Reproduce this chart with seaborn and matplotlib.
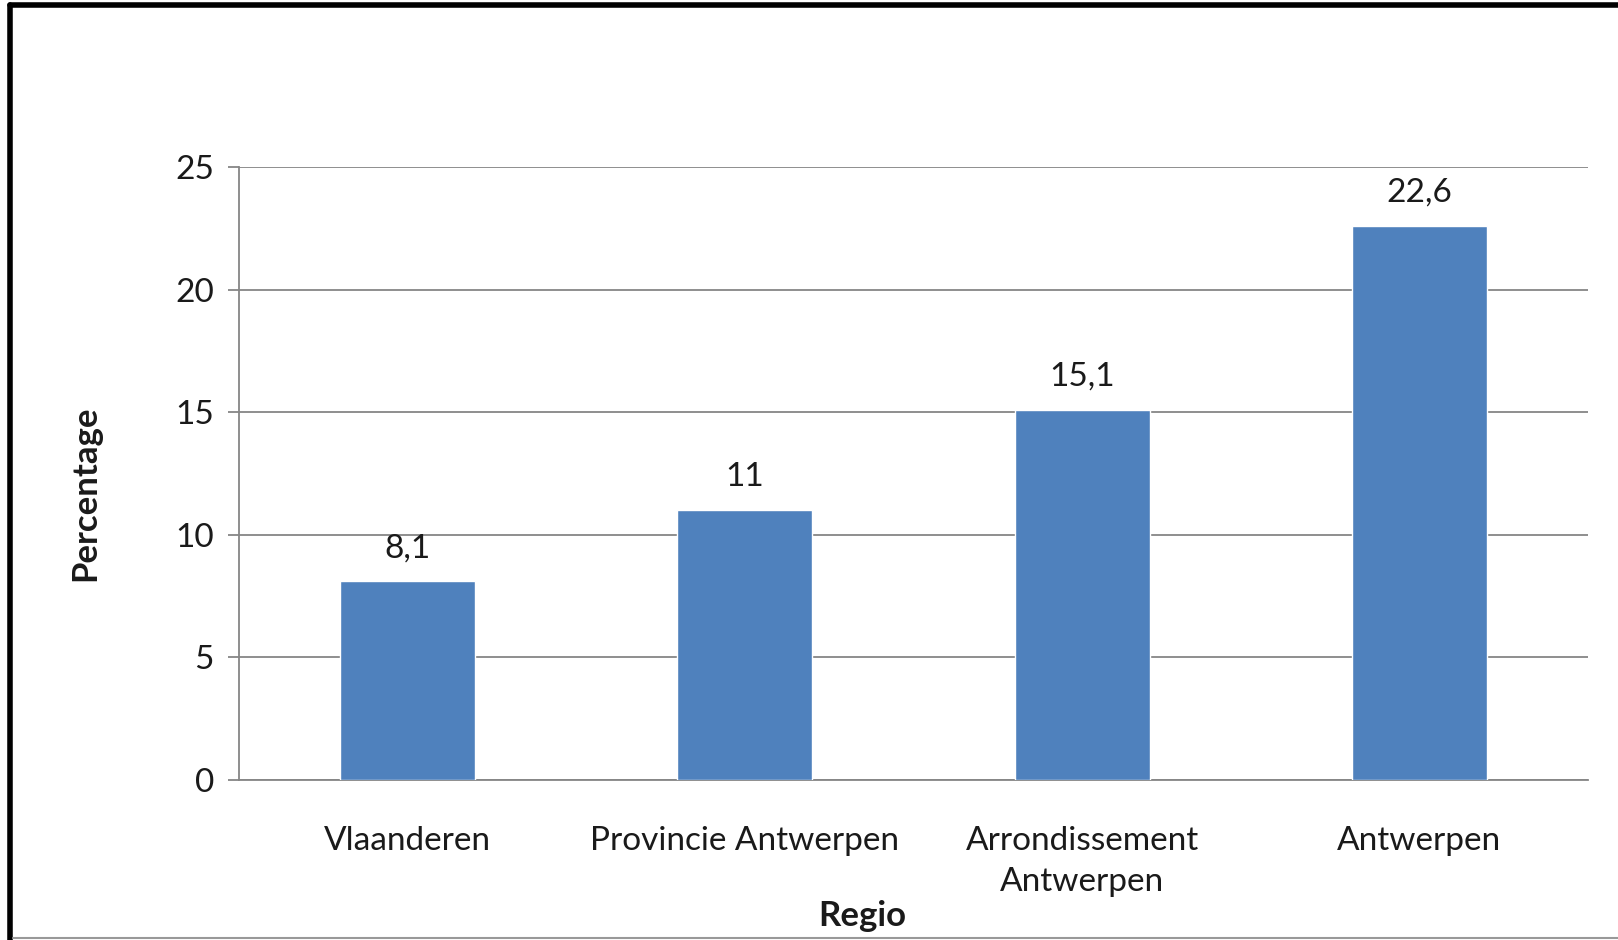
import matplotlib
matplotlib.use("Agg")
from matplotlib import pyplot as plt
from matplotlib.lines import Line2D
import pandas as pd
import seaborn as sns

regions = ['Vlaanderen', 'Provincie Antwerpen', 'Arrondissement\nAntwerpen', 'Antwerpen']
percentages = [8.1, 11.0, 15.1, 22.6]
value_labels = ['8,1', '11', '15,1', '22,6']

df = pd.DataFrame({'Regio': regions, 'Percentage': percentages})

sns.set_style('white')
plt.rcParams['font.family'] = ['Lato', 'DejaVu Sans']

grey = '#868686'
txt = '#1a1a1a'
fig = plt.figure(figsize=(16.18, 9.40), dpi=100)
ax = fig.add_axes([0.1477, 0.1702, 0.8338, 0.6521])

sns.barplot(x='Regio', y='Percentage', data=df, color='#4F81BD', width=0.4,
            saturation=1, ax=ax, zorder=3)

ax.set_ylim(0, 25)
ax.set_xlim(-0.5, 3.5)
ax.set_yticks([0, 5, 10, 15, 20, 25])
ax.yaxis.grid(True, color=grey, linewidth=1.3, zorder=0)
ax.set_axisbelow(True)

# category boundary ticks on x
ax.set_xticks([-0.5, 0.5, 1.5, 2.5, 3.5], minor=True)
ax.tick_params(axis='x', which='major', length=0, labelsize=24, pad=33, labelcolor=txt)
ax.tick_params(axis='x', which='minor', length=9, width=1.3, color=grey, direction='out')
ax.tick_params(axis='y', length=8, width=1.3, color=grey, labelsize=24, pad=10,
               left=True, labelcolor=txt)
for lab in ax.get_xticklabels():
    lab.set_linespacing(1.48)

for side in ['top', 'right']:
    ax.spines[side].set_visible(False)
for side in ['left', 'bottom']:
    ax.spines[side].set_color(grey)
    ax.spines[side].set_linewidth(1.3)

for p, lab in zip(ax.patches, value_labels):
    ax.annotate(lab, (p.get_x() + p.get_width() / 2, p.get_height()),
                xytext=(0, 13), textcoords='offset points',
                ha='center', va='bottom', fontsize=24, color=txt)

ax.set_ylabel('')
ax.set_xlabel('')
fig.text(0.0525, 0.4755, 'Percentage', rotation=90, ha='center', va='center',
         fontsize=25, fontweight='bold', color=txt)
fig.text(0.533, 0.0255, 'Regio', ha='center', va='center',
         fontsize=25, fontweight='bold', color=txt)

# screenshot frame
fig.add_artist(Line2D([0.0059, 0.0059], [0, 0.9947], transform=fig.transFigure,
                      color='black', linewidth=4))
fig.add_artist(Line2D([0.0059, 1.0], [0.9947, 0.9947], transform=fig.transFigure,
                      color='black', linewidth=4))
fig.add_artist(Line2D([0.0078, 1.0], [0.0021, 0.0021], transform=fig.transFigure,
                      color='#999999', linewidth=1.5))

fig.savefig('out.png', dpi=100)
